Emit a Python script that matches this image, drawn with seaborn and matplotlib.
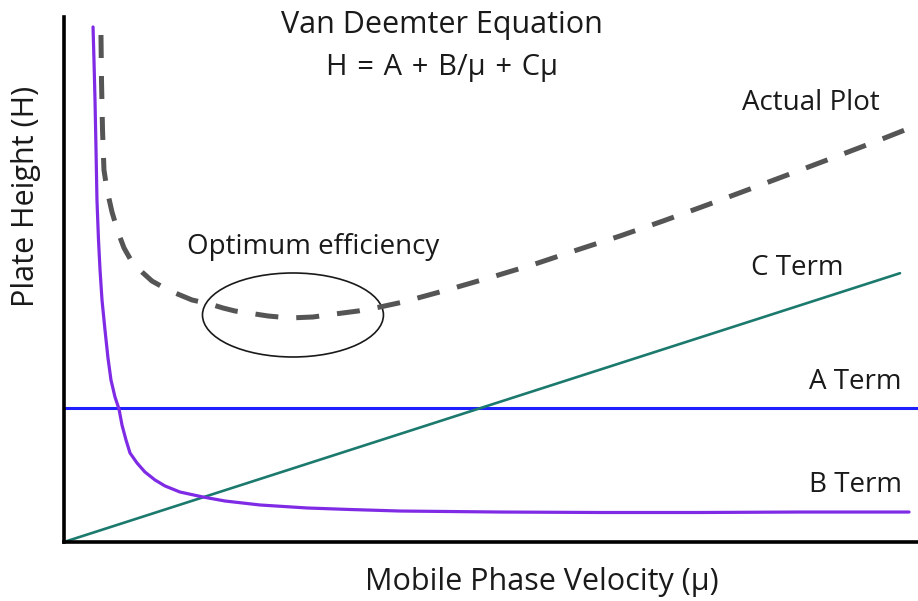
import matplotlib
matplotlib.use("Agg")
import seaborn as sns
import matplotlib.pyplot as plt
from matplotlib.patches import Ellipse

# Van Deemter curves (arbitrary units, axes 0..10)
b_vel = [0.340, 0.351, 0.363, 0.375, 0.386, 0.404, 0.422, 0.445, 0.480, 0.515,
         0.550, 0.597, 0.644, 0.679, 0.726, 0.773, 0.855, 0.948, 1.066, 1.183,
         1.358, 1.628, 1.885, 2.295, 2.845, 3.349, 3.934, 5.105, 6.276, 7.447,
         8.618, 9.895]
b_height = [9.810, 9.181, 8.419, 7.467, 6.514, 5.752, 5.181, 4.610, 4.038, 3.505,
            3.086, 2.762, 2.533, 2.229, 1.943, 1.695, 1.505, 1.333, 1.181, 1.067,
            0.952, 0.857, 0.781, 0.705, 0.648, 0.619, 0.590, 0.571, 0.562, 0.562,
            0.571, 0.571]

a_vel = [0.0, 10.0]
a_height = [2.55, 2.55]

c_vel = [0.0, 9.789]
c_height = [0.0, 5.12]

actual_vel = [0.433, 0.439, 0.451, 0.468, 0.504, 0.562, 0.632, 0.703, 0.796, 0.913,
              1.030, 1.218, 1.358, 1.499, 1.710, 1.862, 2.002, 2.237, 2.389, 2.646,
              2.916, 3.173, 3.443, 3.700, 3.970, 4.485, 5.012, 5.515, 6.007, 6.511,
              7.014, 7.529, 8.033, 8.501, 9.028, 9.520, 9.906]
actual_height = [9.657, 8.800, 7.848, 7.086, 6.705, 6.286, 5.905, 5.600, 5.333, 5.143,
                 4.971, 4.800, 4.705, 4.610, 4.533, 4.457, 4.400, 4.343, 4.305, 4.267,
                 4.286, 4.343, 4.400, 4.476, 4.571, 4.800, 5.048, 5.295, 5.562, 5.829,
                 6.114, 6.419, 6.724, 7.010, 7.333, 7.638, 7.886]

# optimum region: centre, width, height
opt_center = (2.681, 4.324)
opt_size = (2.119, 1.60)

sns.set_style("white")
plt.rcParams['font.family'] = ['Open Sans', 'DejaVu Sans']
txt = '#1a1a1a'

fig = plt.figure(figsize=(9.18, 6.01), dpi=100)
ax = fig.add_axes([64 / 918, 59 / 601, 854 / 918, 525 / 601])

sns.lineplot(x=a_vel, y=a_height, color='#1f1fff', lw=2.2, ax=ax)
sns.lineplot(x=c_vel, y=c_height, color='#1b7a6d', lw=1.9, ax=ax)
sns.lineplot(x=b_vel, y=b_height, color='#7f2be6', lw=2.3, sort=False, ax=ax)
sns.lineplot(x=actual_vel, y=actual_height, color='#555555', lw=3.6, sort=False, ax=ax)
dashed = ax.lines[-1]
dashed.set_linestyle((0, (4.6, 3.6)))
dashed.set_dash_capstyle('butt')
dashed.set_solid_joinstyle('round')

ax.add_patch(Ellipse(opt_center, opt_size[0], opt_size[1], fill=False,
                     ec='#1a1a1a', lw=1.2))

ax.set_xlim(0, 10)
ax.set_ylim(0, 10)
ax.set_xticks([])
ax.set_yticks([])
for s in ['top', 'right']:
    ax.spines[s].set_visible(False)
for s in ['left', 'bottom']:
    ax.spines[s].set_linewidth(2.6)
    ax.spines[s].set_color('black')

fs = 20
big = 22
sp = '\u2004'
ax.text(4.426, 9.695, 'Van Deemter Equation', ha='center', va='baseline', fontsize=big, color=txt)
ax.text(4.426, 8.895, f'H{sp}={sp}A{sp}+{sp}B/\u03bc{sp}+{sp}C\u03bc',
        ha='center', va='baseline', fontsize=21, color=txt)
ax.text(8.747, 8.23, 'Actual Plot', ha='center', va='baseline', fontsize=fs, color=txt)
ax.text(8.583, 5.086, 'C Term', ha='center', va='baseline', fontsize=fs, color=txt)
ax.text(9.262, 2.914, 'A Term', ha='center', va='baseline', fontsize=fs, color=txt)
ax.text(9.274, 0.952, 'B Term', ha='center', va='baseline', fontsize=fs, color=txt)
ax.text(2.916, 5.486, 'Optimum efficiency', ha='center', va='baseline', fontsize=fs, color=txt)

ax.set_ylabel('Plate Height (H)', fontsize=big, color=txt)
ax.yaxis.set_label_coords(-0.027, 0.659)
ax.set_xlabel('Mobile Phase Velocity (\u03bc)', fontsize=big, color=txt)
ax.xaxis.set_label_coords(0.559, -0.048)

fig.savefig('out.png', dpi=100)
